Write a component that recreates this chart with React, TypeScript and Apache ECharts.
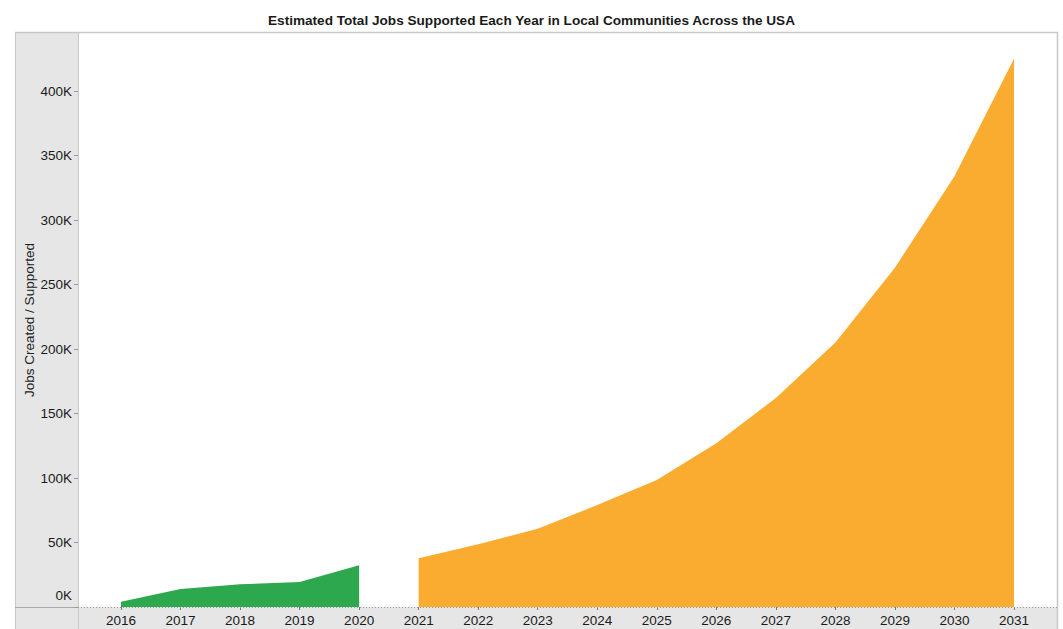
import React, { useEffect, useRef } from "react";
import * as echarts from "echarts";

const years2016to2020 = [2016, 2017, 2018, 2019, 2020];
const actualJobs = [4000, 14000, 17600, 19400, 32300];
const years2021to2031 = [2021, 2022, 2023, 2024, 2025, 2026, 2027, 2028, 2029, 2030, 2031];
const projectedJobs = [37700, 48600, 60700, 79000, 98400, 127000, 162000, 205000, 263000, 334000, 425000];
const yTicks = [0, 50000, 100000, 150000, 200000, 250000, 300000, 350000, 400000];

const FONT = "'Liberation Sans', Arial, Helvetica, sans-serif";

export default function App() {
  const ref = useRef<HTMLDivElement>(null);
  useEffect(() => {
    if (!ref.current) return;
    const chart = echarts.init(ref.current, undefined, { renderer: "svg" });
    const gray = "#e6e6e6";
    const border = "#c8c8c8";
    chart.setOption({
      animation: false,
      textStyle: { fontFamily: FONT },
      title: {
        text: "Estimated Total Jobs Supported Each Year in Local Communities Across the USA",
        left: "center",
        top: 8,
        textStyle: { fontSize: 13.6, fontWeight: "bold", color: "#1a1a1a", fontFamily: FONT },
      },
      graphic: [
        { type: "rect", z: -10, shape: { x: 15, y: 32, width: 63, height: 597 }, style: { fill: gray } },
        { type: "rect", z: -10, shape: { x: 78, y: 607, width: 980, height: 22 }, style: { fill: gray } },
        { type: "line", z: -5, shape: { x1: 15, y1: 32.5, x2: 1058, y2: 32.5 }, style: { stroke: border, lineWidth: 1.5 } },
        { type: "line", z: -5, shape: { x1: 15.5, y1: 32, x2: 15.5, y2: 629 }, style: { stroke: border, lineWidth: 1 } },
        { type: "line", z: -5, shape: { x1: 1057.5, y1: 32, x2: 1057.5, y2: 629 }, style: { stroke: border, lineWidth: 1.5 } },
        { type: "line", z: -5, shape: { x1: 78.5, y1: 32, x2: 78.5, y2: 629 }, style: { stroke: border, lineWidth: 1 } },
        { type: "line", z: -5, shape: { x1: 15, y1: 607.5, x2: 78, y2: 607.5 }, style: { stroke: "#aaa", lineWidth: 1 } },
        { type: "line", z: 5, shape: { x1: 78, y1: 607.5, x2: 1058, y2: 607.5 }, style: { stroke: "#999", lineWidth: 1, lineDash: [1, 2] } },
        {
          type: "text",
          x: 29,
          y: 320,
          rotation: Math.PI / 2,
          style: {
            text: "Jobs Created / Supported",
            fontSize: 13.5,
            fontFamily: FONT,
            fill: "#222",
            align: "center",
            verticalAlign: "middle",
          },
        },
      ],
      grid: { left: 121, right: 49, top: 91, bottom: 22 },
      xAxis: {
        type: "value",
        min: 2016,
        max: 2031,
        interval: 1,
        axisLine: { show: false },
        axisTick: { show: true, length: 3, lineStyle: { color: "#777" } },
        splitLine: { show: false },
        axisLabel: {
          margin: 6,
          fontSize: 13.5,
          color: "#1a1a1a",
          formatter: (v: number) => String(v),
        },
      },
      yAxis: {
        type: "value",
        min: 0,
        max: 400000,
        interval: 50000,
        offset: 43,
        axisLine: { show: false },
        axisTick: { show: true, length: 4, lineStyle: { color: "#999" } },
        splitLine: { show: false },
        axisLabel: {
          margin: 6,
          fontSize: 13.5,
          color: "#1a1a1a",
          formatter: (v: number) => (v === 0 ? "{z|0K}" : yTicks.indexOf(v) >= 0 ? v / 1000 + "K" : ""),
          rich: { z: { fontSize: 13.5, color: "#1a1a1a", padding: [0, 0, 24, 0] } },
        },
      },
      series: [
        {
          type: "line",
          clip: false,
          symbol: "none",
          lineStyle: { width: 0 },
          areaStyle: { color: "#2ea84f", opacity: 1 },
          data: years2016to2020.map((y, i) => [y, actualJobs[i]]),
        },
        {
          type: "line",
          clip: false,
          symbol: "none",
          lineStyle: { width: 0 },
          areaStyle: { color: "#f9ac30", opacity: 1 },
          data: years2021to2031.map((y, i) => [y, projectedJobs[i]]),
        },
      ],
    });
    return () => chart.dispose();
  }, []);
  return (
    <div
      ref={ref}
      style={{ position: "absolute", left: 0, top: 0, width: 1063, height: 629, background: "#fff" }}
    />
  );
}
